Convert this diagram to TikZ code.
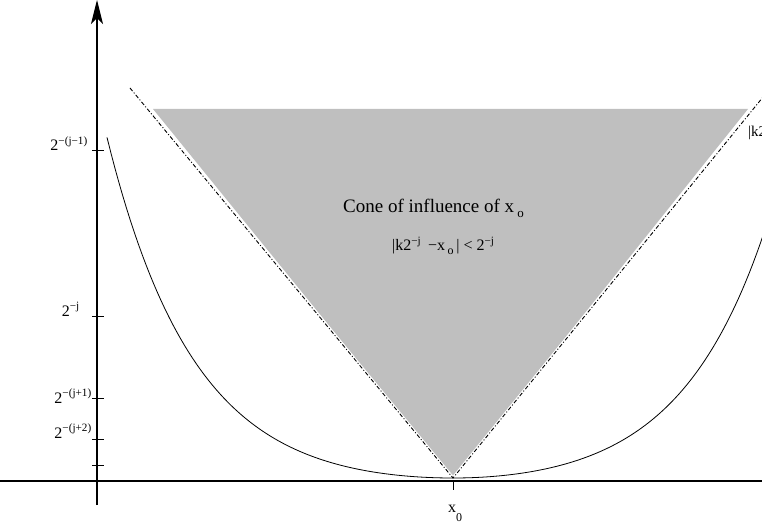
\documentclass[tikz,border=0pt]{standalone}
\usepackage{fontspec}
\setmainfont{Liberation Serif}
\usetikzlibrary{arrows.meta, positioning}
\definecolor{ConeGray}{RGB}{191,191,191}
\tikzset{
    axis/.style={line width=1.2pt, draw=black},
    tickmark/.style={line width=1pt, draw=black},
    curve/.style={line width=0.8pt, draw=black},
    bound/.style={line width=0.9pt, draw=black, dash pattern=on 4pt off 2pt on 1pt off 2pt},
    boundgap/.style={line width=3pt, draw=white},
    cone/.style={fill=ConeGray, draw=none},
    ylab/.style={font=\fontsize{16}{18}\selectfont, inner sep=0pt, anchor=base east},
    conetext/.style={inner sep=0pt, anchor=base west}
}

\begin{document}
\begin{tikzpicture}[x=1pt, y=-1pt]
    \useasboundingbox (0,0) rectangle (762,529);
    \clip (0,0) rectangle (762,529);

    % Points
    \coordinate (apex) at (453,478);
    \coordinate (coneL) at (153,109);
    \coordinate (coneR) at (748,109);
    \coordinate (boundL) at (130,88);
    \coordinate (boundR) at (772,86);
    \coordinate (xleft) at (0,481);
    \coordinate (xright) at (762,481);
    \coordinate (ybot) at (97,505);
    \coordinate (ytop) at (97,0);

    % Cone
    \fill[cone] (coneL) -- (coneR) -- (apex) -- cycle;
    \draw[boundgap] (boundL) -- (apex) -- (boundR);
    \draw[bound] (boundL) -- (apex) -- (boundR);

    % Axes
    \draw[axis] (xleft) -- (xright);
    \draw[axis, -{Stealth[length=24pt, width=12pt, inset=6pt]}] (ybot) -- (ytop);
    \foreach \ty in {151,316,398,439,465}
        \draw[tickmark] (92,\ty) -- (104,\ty);
    \draw[tickmark] (453,481) -- (453,490);

    % Curves
    \draw[curve] plot[domain=0:346, samples=90] ({453-\x}, {478-13.5*(cosh(0.01145*\x)-1)});
    \draw[curve] plot[domain=0:330, samples=90] ({453+\x}, {478-14.8*(cosh(0.01145*\x)-1)});

    % Labels
    \node[ylab] (lab1) at (88,151) {2\textsuperscript{−(j−1)}};
    \node[ylab] (lab2) at (80,316) {2\textsuperscript{−j}};
    \node[ylab] (lab3) at (92,403) {2\textsuperscript{−(j+1)}};
    \node[ylab] (lab4) at (92,438) {2\textsuperscript{−(j+2)}};
    \node[conetext, font=\fontsize{16}{18}\selectfont] (xzero) at (448,512) {x\raisebox{-9pt}{\fontsize{12}{12}\selectfont 0}};

    \node[conetext, font=\fontsize{19}{22}\selectfont] (title) at (343,213) {Cone of influence of x\,\raisebox{-5pt}{\fontsize{13}{13}\selectfont o}};
    \node[conetext, font=\fontsize{16}{18}\selectfont] (cond) at (392,251) {|k2\textsuperscript{−j}\, −x\,\raisebox{-4pt}{\fontsize{12}{12}\selectfont o}\,| < 2\textsuperscript{−j}};
    \node[conetext, font=\fontsize{15}{18}\selectfont] (cutlab) at (748,137) {|k2};
\end{tikzpicture}
\end{document}
